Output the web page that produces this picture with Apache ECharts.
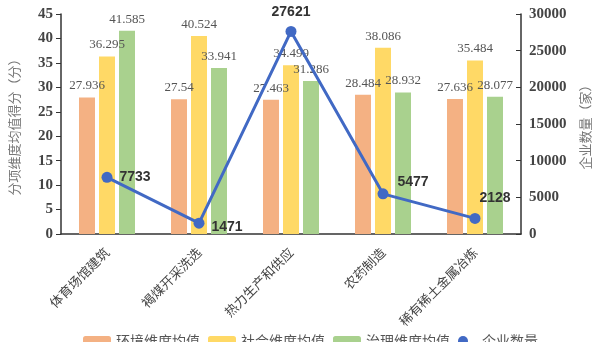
<!DOCTYPE html>
<html><head><meta charset="utf-8">
<script src="https://cdn.jsdelivr.net/npm/echarts@6/dist/echarts.min.js"></script>
<style>html,body{margin:0;padding:0;background:#fff}#c{width:600px;height:342px}</style>
</head><body><div id="c"></div>
<script>
var categories = ['体育场馆建筑','褐煤开采洗选','热力生产和供应','农药制造','稀有稀土金属冶炼'];
var envMean = [27.936, 27.54, 27.463, 28.484, 27.636];
var socMean = [36.295, 40.524, 34.499, 38.086, 35.484];
var govMean = [41.585, 33.941, 31.286, 28.932, 28.077];
var companyCount = [7733, 1471, 27621, 5477, 2128];
var leftTicks = {min:0, max:45, interval:5};
var rightTicks = {min:0, max:30000, interval:5000};

var chart = echarts.init(document.getElementById('c'));
var serif = 'Liberation Serif';
var cjk = 'Noto Sans CJK SC';
var barLabel = {show:true, position:'top', distance:5, color:'#555', fontFamily:serif, fontSize:13};
var lineLabelPos = [
  {position:'right', offset:[2,0]},
  {position:'right', offset:[2,4]},
  {position:'top', offset:[0,-2]},
  {position:'right', offset:[4,-12]},
  {position:'right', offset:[-6,-20]}
];
chart.setOption({
  animation:false,
  grid:{left:60, right:77, top:14, bottom:108},
  legend:{
    top:329, left:78, itemWidth:28, itemHeight:10, itemGap:8,
    textStyle:{fontFamily:cjk, fontSize:14, color:'#555'},
    data:[{name:'环境维度均值'},{name:'社会维度均值'},{name:'治理维度均值'},{name:'企业数量', icon:'circle'}]
  },
  xAxis:{
    type:'category', data:categories,
    axisLine:{lineStyle:{color:'#333', width:1.5}},
    axisTick:{inside:true, length:5, lineStyle:{color:'#333'}},
    axisLabel:{rotate:45, color:'#444', fontFamily:cjk, fontSize:13, margin:16}
  },
  yAxis:[{
    type:'value', min:leftTicks.min, max:leftTicks.max, interval:leftTicks.interval,
    name:'分项维度均值得分（分）', nameLocation:'middle', nameRotate:90, nameGap:40,
    nameTextStyle:{fontFamily:cjk, fontSize:13, color:'#777'},
    splitLine:{show:false},
    axisLine:{show:true, lineStyle:{color:'#333', width:1.5}},
    axisTick:{show:true, length:5, lineStyle:{color:'#333'}},
    axisLabel:{color:'#444', fontFamily:serif, fontWeight:'bold', fontSize:15, margin:8}
  },{
    type:'value', min:rightTicks.min, max:rightTicks.max, interval:rightTicks.interval,
    name:'企业数量（家）', nameLocation:'middle', nameRotate:90, nameGap:58,
    nameTextStyle:{fontFamily:cjk, fontSize:13, color:'#777', padding:[0,0,20,0]},
    position:'right',
    splitLine:{show:false},
    axisLine:{show:true, lineStyle:{color:'#333', width:1.5}},
    axisTick:{show:true, inside:true, length:5, lineStyle:{color:'#333'}},
    axisLabel:{color:'#444', fontFamily:serif, fontWeight:'bold', fontSize:15, margin:8,
      formatter:function(v){return String(v);}}
  }],
  series:[
    {name:'环境维度均值', type:'bar', data:envMean, barWidth:16, barGap:'25%', itemStyle:{color:'#F4B183'}, label:barLabel},
    {name:'社会维度均值', type:'bar', data:socMean, barWidth:16, barGap:'25%', itemStyle:{color:'#FFD966'}, label:barLabel},
    {name:'治理维度均值', type:'bar', data:govMean, barWidth:16, barGap:'25%', itemStyle:{color:'#A9D18E'}, label:barLabel},
    {name:'企业数量', type:'line', yAxisIndex:1, data:companyCount.map(function(v,i){
        return {value:v, label:lineLabelPos[i]};
      }),
      symbol:'circle', symbolSize:11, z:5,
      lineStyle:{color:'#4169C4', width:3}, itemStyle:{color:'#4169C4'},
      label:{show:true, color:'#333', fontFamily:'Liberation Sans', fontWeight:'bold', fontSize:14}
    }
  ]
});
</script></body></html>
